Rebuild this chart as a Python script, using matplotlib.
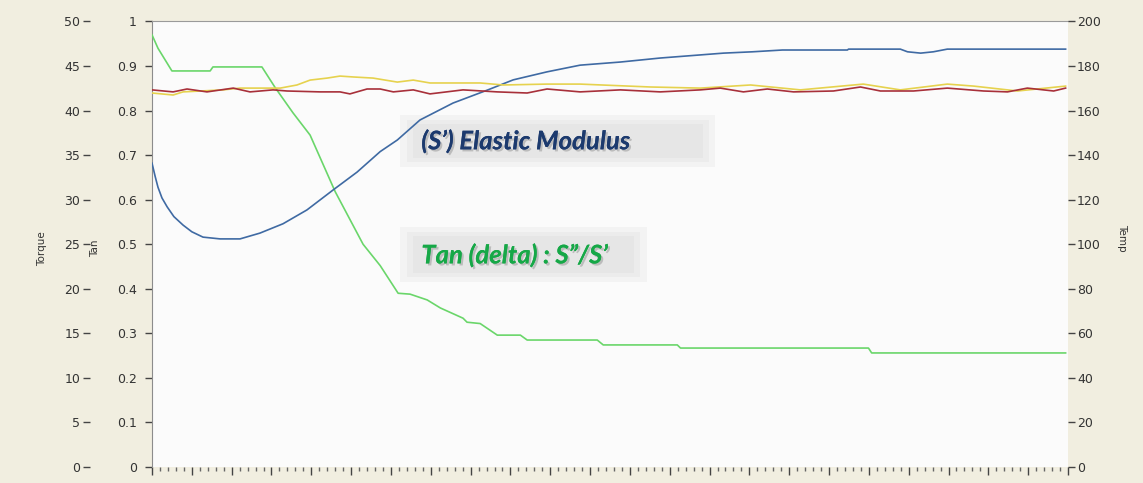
import matplotlib
import matplotlib.pyplot as plt
import matplotlib.patheffects as pe
from matplotlib.patches import Rectangle
from matplotlib.ticker import MultipleLocator, FuncFormatter

matplotlib.use('Agg')

# time axis (unlabelled minutes)
tan_time = [0, 0.15, 0.50, 1.46, 1.53, 2.76, 3.09, 3.54, 3.97, 4.60, 5.30, 5.73, 6.18,
            6.48, 6.91, 7.24, 7.81, 7.91, 8.24, 8.67, 9.25, 9.42, 11.18, 11.33, 13.19,
            13.27, 17.99, 18.07, 22.94]
tan_delta = [0.97, 0.94, 0.889, 0.889, 0.898, 0.898, 0.852, 0.795, 0.745, 0.618, 0.50,
             0.452, 0.39, 0.388, 0.375, 0.357, 0.334, 0.325, 0.322, 0.296, 0.296, 0.285,
             0.285, 0.274, 0.274, 0.267, 0.267, 0.256, 0.256]

torque_time = [0, 0.08, 0.15, 0.25, 0.38, 0.55, 0.78, 1.0, 1.28, 1.71, 2.21, 2.71, 3.29,
               3.89, 4.55, 5.15, 5.73, 6.16, 6.73, 7.56, 8.42, 9.07, 9.92, 10.75, 11.76,
               12.76, 13.77, 14.35, 15.08, 15.83, 17.46, 17.49, 18.79, 18.97, 19.30, 19.62,
               19.97, 22.94]
elastic_torque = [34.1, 32.6, 31.4, 30.2, 29.2, 28.1, 27.15, 26.4, 25.8, 25.6, 25.6, 26.25,
                  27.3, 28.85, 31.1, 33.1, 35.4, 36.7, 38.95, 40.85, 42.3, 43.45, 44.35,
                  45.1, 45.45, 45.9, 46.25, 46.45, 46.6, 46.8, 46.8, 46.9, 46.9, 46.6, 46.45,
                  46.6, 46.9, 46.9]

upper_time = [0, 0.53, 0.78, 1.78, 2.21, 3.22, 3.64, 3.97, 4.40, 4.72, 5.05, 5.55, 6.16,
              6.56, 6.98, 8.24, 8.82, 9.92, 10.75, 12.51, 13.77, 15.03, 16.28, 17.86,
              18.79, 19.97, 20.63, 21.73, 22.94]
upper_temp = [167.9, 167.0, 168.4, 169.3, 170.1, 170.1, 171.5, 173.7, 174.6, 175.5, 175.1,
              174.6, 172.8, 173.7, 172.4, 172.4, 171.5, 171.9, 171.9, 170.6, 170.1, 171.5,
              169.3, 171.9, 169.3, 171.9, 171.0, 168.8, 171.0]

lower_time = [0, 0.53, 0.88, 1.38, 2.04, 2.46, 3.04, 3.39, 4.22, 4.72, 4.97, 5.40, 5.73,
              6.06, 6.56, 6.98, 7.81, 8.67, 9.42, 9.92, 10.75, 11.76, 12.76, 13.77, 14.27,
              14.85, 15.45, 16.11, 17.11, 17.79, 18.29, 19.12, 19.97, 20.88, 21.48, 21.98,
              22.64, 22.94]
lower_temp = [169.3, 168.4, 169.7, 168.4, 170.1, 168.4, 169.3, 168.8, 168.4, 168.4, 167.5,
              169.7, 169.7, 168.4, 169.3, 167.5, 169.3, 168.4, 167.9, 169.7, 168.4, 169.3,
              168.4, 169.3, 170.1, 168.4, 169.7, 168.4, 168.8, 170.6, 168.8, 168.8, 170.1,
              168.8, 168.4, 170.1, 168.8, 170.1]

TXT = '#333333'
fig = plt.figure(figsize=(11.43, 4.83), dpi=100)
fig.patch.set_facecolor('#f1eee0')

ax = fig.add_axes([0.13298, 0.03313, 0.8014, 0.92236])
ax.set_facecolor('#fbfbfb')
ax.set_xlim(0, 23)
ax.set_ylim(0, 1)
ax.spines['top'].set_color('#9a9a9a')
ax.spines['left'].set_color('#8c8c8c')
ax.spines['bottom'].set_visible(False)
ax.spines['right'].set_visible(False)
ax.xaxis.set_major_locator(MultipleLocator(1))
ax.xaxis.set_minor_locator(MultipleLocator(0.2))
ax.tick_params(axis='x', which='major', direction='out', length=6, width=1,
               color='#444444', labelbottom=False)
ax.tick_params(axis='x', which='minor', direction='out', length=3, width=1, color='#666666')
ax.yaxis.set_major_locator(MultipleLocator(0.1))
ax.yaxis.set_major_formatter(FuncFormatter(lambda v, p: '%g' % round(v, 1)))
ax.tick_params(axis='y', direction='out', length=5, width=1, pad=6, labelsize=9,
               color='#444444', labelcolor=TXT)
ax.set_ylabel('Tan', fontsize=7.5, color=TXT)
ax.yaxis.set_label_coords(-0.057, 0.49)

# torque axis, further out on the left
ax_tq = ax.twinx()
ax_tq.set_ylim(0, 50)
for s in ax_tq.spines.values():
    s.set_visible(False)
ax_tq.yaxis.set_ticks_position('left')
ax_tq.yaxis.set_label_position('left')
ax_tq.spines['left'].set_position(('outward', 44.6))
ax_tq.yaxis.set_major_locator(MultipleLocator(5))
ax_tq.tick_params(axis='y', direction='out', length=5, width=1, pad=2, labelsize=9,
                  color='#444444', labelcolor=TXT)
ax_tq.set_ylabel('Torque', fontsize=7.5, color=TXT)
ax_tq.yaxis.set_label_coords(-0.1146, 0.49)

# temperature axis on the right
ax_tp = ax.twinx()
ax_tp.set_ylim(0, 200)
for s in ax_tp.spines.values():
    s.set_visible(False)
ax_tp.yaxis.set_major_locator(MultipleLocator(20))
ax_tp.tick_params(axis='y', direction='out', length=5, width=1, pad=1.5, labelsize=9,
                  color='#444444', labelcolor=TXT)
ax_tp.set_ylabel('Temp', fontsize=7.5, color=TXT, rotation=-90)
ax_tp.yaxis.set_label_coords(1.065, 0.515)

# soft grey boxes behind the annotations
for (x0, y0, w, h) in [(0.271, 0.673, 0.344, 0.117), (0.271, 0.415, 0.269, 0.124)]:
    for k, a in [(0.0, 0.3), (0.007, 0.4), (0.014, 0.5)]:
        ax.add_patch(Rectangle((x0 + k, y0 + k * 1.5), w - 2 * k, h - 3 * k,
                               transform=ax.transAxes, facecolor='#e2e2e2', edgecolor='none',
                               alpha=a, zorder=0.5))

ax.plot(tan_time, tan_delta, color='#6ad66a', lw=1.2, zorder=3)
ax_tq.plot(torque_time, elastic_torque, color='#3f6aa3', lw=1.2)
ax_tp.plot(upper_time, upper_temp, color='#e6d24e', lw=1.2)
ax_tp.plot(lower_time, lower_temp, color='#a8303a', lw=1.2)

shadow = [pe.withSimplePatchShadow(offset=(1.5, -1.5), shadow_rgbFace='#000000', alpha=0.18),
          pe.Normal()]
ax_tp.text(0.294, 0.732, '(S’) Elastic Modulus', transform=ax.transAxes, family='Lato',
           fontsize=18.5, fontweight='bold', style='italic', color='#1c3a6e', va='center',
           ha='left', path_effects=shadow)
ax_tp.text(0.294, 0.476, 'Tan (delta) : S”/S’', transform=ax.transAxes, family='Lato',
           fontsize=18.5, fontweight='bold', style='italic', color='#16a847', va='center',
           ha='left', path_effects=shadow)

fig.savefig('out.png', dpi=100, facecolor=fig.get_facecolor())
